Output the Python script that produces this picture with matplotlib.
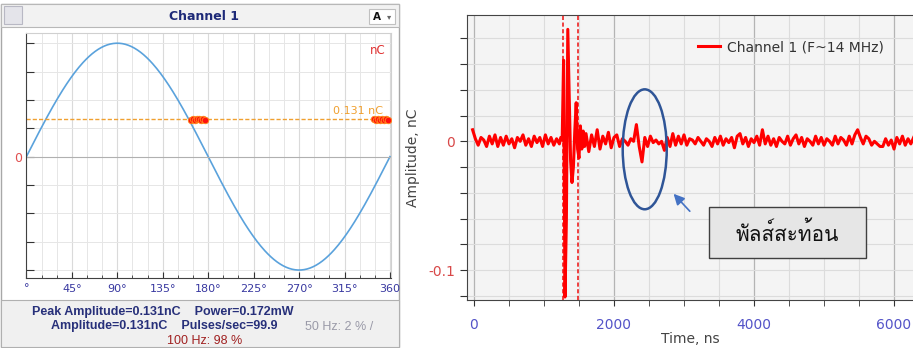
import numpy as np
import matplotlib
matplotlib.use("Agg")
import matplotlib.pyplot as plt
from matplotlib.patches import Rectangle, Ellipse
import matplotlib.font_manager as fm
from matplotlib.ft2font import FT2Font

# ---------------- data ----------------
# left panel (phase-resolved view)
phase_deg = np.arange(0, 361, 1)
sine_amplitude_nC = 0.4
threshold_nC = 0.131
pulse_phase_a = [163, 165, 167, 169, 171, 173, 175, 177]
pulse_amp_a = [0.130, 0.132, 0.129, 0.133, 0.131, 0.128, 0.132, 0.130]
pulse_phase_b = [344, 346, 348, 350, 352, 354, 356, 358]
pulse_amp_b = [0.131, 0.129, 0.133, 0.130, 0.132, 0.128, 0.131, 0.130]
phase_tick_labels = ["°", "45°", "90°", "135°", "180°", "225°", "270°", "315°", "360"]

# right panel (time-domain trace), three sample segments
seg1_start, seg1_step = -20, 40
seg1_amp = [0.009, 0.002, -0.003, 0.003, 0.001, -0.004, 0.004, -0.002, 0.005, -0.004,
            0.003, -0.003, 0.004, -0.002, 0.002, -0.005, 0.003, 0.000, 0.005, -0.003,
            0.002, -0.004, 0.004, -0.001, 0.003, -0.004, 0.005, -0.002, 0.003, -0.003,
            0.002, -0.002]
seg2_start, seg2_step = 1240, 20
seg2_amp = [0.003, 0.001, 0.063, -0.121, -0.060, 0.087, 0.035, -0.015, -0.032, -0.020,
            0.008, 0.030, -0.006, -0.013, 0.012, -0.006, 0.008, -0.004]
seg3_start, seg3_step = 1600, 40
seg3_amp = [0.006, -0.008, 0.005, -0.004, 0.009, -0.006, 0.004, -0.002, 0.007, -0.005,
            0.003, 0.005, -0.004, 0.002, 0.000, -0.003, 0.002, 0.000, 0.013, -0.004,
            -0.016, 0.003, -0.004, 0.004, -0.001, 0.001, -0.002, 0.000, -0.007, 0.003,
            -0.004, 0.006, -0.003, 0.004, -0.002, 0.005, -0.003, 0.002, 0.001, -0.002,
            0.003, 0.000, -0.003, 0.002, 0.000, -0.004, 0.003, -0.002, 0.004, -0.003,
            0.002, -0.001, 0.003, -0.005, 0.004, 0.006, -0.002, 0.003, -0.004, 0.002,
            -0.001, 0.004, -0.003, 0.009, -0.002, 0.004, -0.003, 0.002, -0.004, 0.003,
            0.000, -0.002, 0.004, -0.003, 0.002, 0.005, -0.002, 0.003, -0.004, 0.002,
            0.000, -0.003, 0.004, -0.002, 0.003, -0.003, 0.002, 0.000, -0.003, 0.004,
            -0.002, 0.003, 0.001, -0.003, 0.004, -0.002, 0.005, 0.009, 0.003, -0.002,
            0.004, 0.002, -0.003, 0.000, -0.002, -0.004, -0.004, 0.002, -0.003, 0.001,
            -0.006, 0.003, -0.002, 0.004, -0.003, 0.002, -0.002, 0.003]
gate_times_ns = [1276, 1490]
reflection_center = (2439, -0.0062)
reflection_size = (629, 0.0932)

time_ns = np.concatenate([
    seg1_start + seg1_step * np.arange(len(seg1_amp)),
    seg2_start + seg2_step * np.arange(len(seg2_amp)),
    seg3_start + seg3_step * np.arange(len(seg3_amp)),
])
amp_nC = np.array(seg1_amp + seg2_amp + seg3_amp)

# ---------------- fonts ----------------
thai_font = None
for f in fm.fontManager.ttflist:
    try:
        cmap = FT2Font(f.fname).get_charmap()
        if 0x0E1E in cmap and 0x0E31 in cmap and 0x0E49 in cmap:
            thai_font = f.name
            break
    except Exception:
        pass
plt.rcParams['font.family'] = ['DejaVu Sans']

W, H = 913, 348
fig = plt.figure(figsize=(W / 100, H / 100), dpi=100)


def fx(px):
    return px / W


def fy(py):
    return 1 - py / H


def frect(x0, y0, x1, y1, **kw):
    r = Rectangle((fx(x0), fy(y1)), fx(x1) - fx(x0), fy(y0) - fy(y1),
                  transform=fig.transFigure, zorder=-10, **kw)
    fig.add_artist(r)
    return r


# ---------------- left panel chrome ----------------
frect(1, 4, 399, 347, facecolor="white", edgecolor="#a8a8a8", lw=1)
frect(1, 4, 399, 27, facecolor="#f2f2f2", edgecolor="#b8b8b8", lw=0.8)
frect(1, 300, 399, 347, facecolor="#f0f0f0", edgecolor="#b0b0b0", lw=0.8)
frect(4, 6, 22, 24, facecolor="#e4e4ea", edgecolor="#b8b8c4", lw=0.8)
frect(369, 9, 395, 24, facecolor="white", edgecolor="#c0c0c0", lw=0.8)
fig.text(fx(204), fy(16), "Channel 1", color="#1e2a78", fontsize=9, fontweight="bold",
         ha="center", va="center")
fig.text(fx(373), fy(16.5), "A", color="#111111", fontsize=7.5, fontweight="bold",
         ha="left", va="center")
fig.text(fx(389), fy(16.5), "▾", color="#666666", fontsize=6, ha="center", va="center")

sfont = ["Liberation Sans", "DejaVu Sans"]
fig.text(fx(163), fy(311.5), "Peak Amplitude=0.131nC    Power=0.172mW", color="#27307a",
         fontsize=9, fontweight="bold", ha="center", va="center", family=sfont)
fig.text(fx(51), fy(326.5), "Amplitude=0.131nC    Pulses/sec=99.9", color="#27307a",
         fontsize=9, fontweight="bold", ha="left", va="center", family=sfont)
fig.text(fx(305), fy(326.5), "50 Hz: 2 % /", color="#9a9aa8", fontsize=9,
         ha="left", va="center", family=sfont)
fig.text(fx(205), fy(341.5), "100 Hz: 98 %", color="#a02020", fontsize=9,
         ha="center", va="center", family=sfont)

# ---------------- left axes ----------------
axL = fig.add_axes([fx(26.4), fy(278), fx(391) - fx(26.4), fy(33) - fy(278)])
axL.set_facecolor("white")
axL.plot(phase_deg, sine_amplitude_nC * np.sin(np.radians(phase_deg)), color="#5aa2dc", lw=1.2)
axL.axhline(threshold_nC, color="#f0a030", lw=1.0, ls=(0, (3, 1.5)))
axL.axhline(0, color="#b0b0b0", lw=0.8)
for ph, am in ((pulse_phase_a, pulse_amp_a), (pulse_phase_b, pulse_amp_b)):
    axL.scatter(ph, am, s=22, color="#ff1010", edgecolors="#ff8c1a", linewidths=0.6, zorder=4)
axL.text(360 - 32, threshold_nC + 0.012, "0.131 nC", color="#f0a030", fontsize=8,
         ha="center", va="bottom")
axL.text(0.985, 0.955, "nC", transform=axL.transAxes, color="#e03030", fontsize=8.5,
         ha="right", va="top")
axL.set_xlim(0, 361)
axL.set_ylim(-0.428, 0.436)
axL.set_xticks(np.arange(0, 361, 45))
axL.set_xticklabels(phase_tick_labels)
axL.set_xticks(np.arange(0, 361, 15), minor=True)
axL.set_yticks(np.arange(-0.4, 0.41, 0.1))
axL.set_yticklabels(["0" if abs(v) < 1e-9 else "" for v in np.arange(-0.4, 0.41, 0.1)])
axL.tick_params(axis="x", which="both", direction="in", colors="#333333", labelcolor="#3838a0",
                labelsize=8, pad=4, length=4)
axL.tick_params(axis="x", which="minor", length=2.5)
axL.tick_params(axis="y", direction="in", length=6, colors="#333333", labelcolor="#e05050",
                labelsize=9, pad=3)
axL.grid(True, which="minor", axis="x", color="#e6e6e6", lw=0.7)
axL.grid(True, which="major", axis="x", color="#dadada", lw=0.8)
axL.grid(True, which="major", axis="y", color="#e6e6e6", lw=0.7)
axL.set_axisbelow(True)
for s in ("top", "right"):
    axL.spines[s].set_color("#d0d0d0")
for s in ("left", "bottom"):
    axL.spines[s].set_color("#404040")

# ---------------- right axes ----------------
x0 = 466.7
axR = fig.add_axes([fx(x0), fy(300), 1.0 - fx(x0), fy(14.7) - fy(300)])
axR.set_facecolor("#f4f4f4")
axR.set_xlim(-104, 6271)
axR.set_ylim(-0.1233, 0.0984)
axR.set_xticks([0, 2000, 4000, 6000])
axR.set_xticks(np.arange(0, 6300, 500), minor=True)
yt = np.round(np.arange(-0.12, 0.081, 0.02), 2)
axR.set_yticks(yt)
axR.set_yticklabels(["0" if v == 0 else ("-0.1" if abs(v + 0.1) < 1e-9 else "") for v in yt])
axR.grid(True, which="minor", axis="x", color="#dcdcdc", lw=0.8)
axR.grid(True, which="major", axis="x", color="#b4b4b4", lw=0.9)
axR.grid(True, which="major", axis="y", color="#dcdcdc", lw=0.8)
axR.set_axisbelow(True)
axR.tick_params(axis="x", which="both", direction="out", length=4, colors="#333333",
                labelcolor="#5454c8", labelsize=10, pad=9)
axR.tick_params(axis="y", direction="out", length=5, colors="#333333",
                labelcolor="#d84848", labelsize=10)
for s in ("top", "left", "bottom"):
    axR.spines[s].set_color("#444444")
axR.spines["right"].set_visible(False)

for g in gate_times_ns:
    axR.axvline(g, color="#ee2020", lw=1.2, ls=(0, (2.5, 1.5)), zorder=3)
line, = axR.plot(time_ns, amp_nC, color="#ff0000", lw=2.2, zorder=4,
                 label="Channel 1 (F~14 MHz)")
axR.legend(handles=[line], loc="upper left", bbox_to_anchor=(0.49, 0.955), frameon=False,
           fontsize=10, handlelength=1.6, handletextpad=0.5, labelcolor="#333333")
axR.set_xlabel("Time, ns", color="#444444", fontsize=10, labelpad=0)
axR.set_ylabel("Amplitude, nC", color="#444444", fontsize=10, labelpad=6)

axR.add_patch(Ellipse(reflection_center, reflection_size[0], reflection_size[1],
                      fill=False, edgecolor="#2f5597", lw=1.8, zorder=5))
axR.annotate("", xy=(2824, -0.0392), xytext=(3110, -0.0559),
             arrowprops=dict(arrowstyle="-|>", color="#4472c4", lw=1.2, mutation_scale=16))
axR.add_patch(Rectangle((3357, -0.0907), 2243, 0.0397, facecolor="#e6e6e6",
                        edgecolor="#404040", lw=1.0, zorder=5))
thai_family = [thai_font, "DejaVu Sans"] if thai_font else ["DejaVu Sans"]
axR.text(4479, -0.0712, "พัลส์สะท้อน", family=thai_family, fontsize=15, color="#111111",
         ha="center", va="center", zorder=6)

fig.savefig("out.png", dpi=100)
